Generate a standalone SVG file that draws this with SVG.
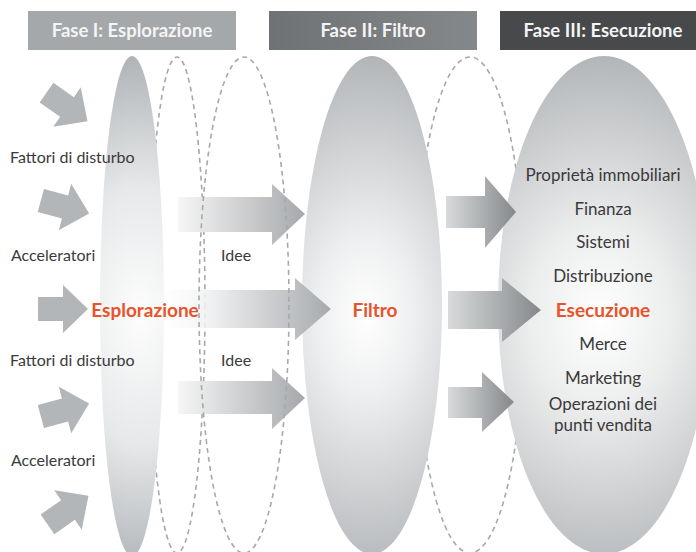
<svg xmlns="http://www.w3.org/2000/svg" width="696" height="552" viewBox="0 0 696 552">
  <defs>
    <style>
      .hdr-text { font-family: Lato, "Liberation Sans", sans-serif; font-weight: bold; font-size: 18.5px; fill: #f4f4f4; text-anchor: middle; }
      .lbl { font-family: Lato, "Liberation Sans", sans-serif; font-size: 16px; fill: #3a3a3a; }
      .item { font-family: Lato, "Liberation Sans", sans-serif; font-size: 17px; fill: #3a3a3a; text-anchor: middle; }
      .key { font-family: Lato, "Liberation Sans", sans-serif; font-weight: bold; font-size: 19px; fill: #e8532c; text-anchor: middle; }
      .dash { fill: none; stroke: #a8a8a8; stroke-width: 1.6; stroke-dasharray: 5 4; }
      .small-arrow { fill: #b3b6b9; }
    </style>
    <radialGradient id="gExp" gradientUnits="userSpaceOnUse" cx="0" cy="0" r="1" gradientTransform="translate(140 315) scale(140 258)">
      <stop offset="0" stop-color="#fdfdfd"/>
      <stop offset="0.5" stop-color="#e6e8e9"/>
      <stop offset="1" stop-color="#b1b4b7"/>
    </radialGradient>
    <radialGradient id="gFil" gradientUnits="userSpaceOnUse" cx="0" cy="0" r="1" gradientTransform="translate(366 316) scale(160 262)">
      <stop offset="0" stop-color="#ffffff"/>
      <stop offset="0.3" stop-color="#eeeff0"/>
      <stop offset="1" stop-color="#b2b5b8"/>
    </radialGradient>
    <radialGradient id="gEse" gradientUnits="userSpaceOnUse" cx="0" cy="0" r="1" gradientTransform="translate(600 318) scale(200 262)">
      <stop offset="0" stop-color="#ffffff"/>
      <stop offset="0.35" stop-color="#eceded"/>
      <stop offset="1" stop-color="#b3b6b9"/>
    </radialGradient>
    <linearGradient id="gIdee" x1="178" y1="0" x2="305" y2="0" gradientUnits="userSpaceOnUse">
      <stop offset="0" stop-color="#f6f6f6"/>
      <stop offset="1" stop-color="#a6a9ac"/>
    </linearGradient>
    <linearGradient id="gMid" x1="150" y1="0" x2="330" y2="0" gradientUnits="userSpaceOnUse">
      <stop offset="0" stop-color="#ffffff" stop-opacity="0"/>
      <stop offset="0.35" stop-color="#eeeff0"/>
      <stop offset="1" stop-color="#a8abae"/>
    </linearGradient>
    <linearGradient id="gOut" x1="0" y1="0" x2="1" y2="0">
      <stop offset="0" stop-color="#d8dadb"/>
      <stop offset="1" stop-color="#85888b"/>
    </linearGradient>
    <linearGradient id="gBar2" x1="0" y1="0" x2="1" y2="0">
      <stop offset="0" stop-color="#6f7275"/>
      <stop offset="1" stop-color="#85888b"/>
    </linearGradient>
  </defs>

  <rect width="696" height="552" fill="#ffffff"/>

  <!-- phase headers -->
  <g id="header-fase1">
    <rect x="28" y="11" width="208" height="39" fill="#a5a8ab"/>
    <text class="hdr-text" x="132" y="37">Fase I: Esplorazione</text>
  </g>
  <g id="header-fase2">
    <rect x="269" y="11" width="208" height="39" fill="url(#gBar2)"/>
    <text class="hdr-text" x="373" y="37">Fase II: Filtro</text>
  </g>
  <g id="header-fase3">
    <rect x="500" y="11" width="196" height="39" fill="#47494b"/>
    <text class="hdr-text" x="603" y="37">Fase III: Esecuzione</text>
  </g>

  <!-- dashed transition loops behind the phases -->
  <g id="loops">
    <ellipse class="dash" cx="177" cy="305" rx="28" ry="248"/>
    <ellipse class="dash" cx="470" cy="305" rx="55" ry="248"/>
  </g>

  <!-- phase bodies -->
  <g id="node-esplorazione">
    <ellipse cx="132" cy="306" rx="32" ry="250" fill="url(#gExp)"/>
  </g>
  <g id="node-filtro">
    <ellipse cx="372" cy="305" rx="70" ry="249" fill="url(#gFil)"/>
  </g>
  <g id="node-esecuzione">
    <ellipse cx="604" cy="305" rx="106" ry="249" fill="url(#gEse)"/>
  </g>

  <!-- connectors -->
  <g id="connectors">
    <!-- incoming influences -->
    <path class="small-arrow" transform="translate(67 107) rotate(35)" d="M-25,-12 H0 V-24 L25,0 L0,24 V12 H-25 Z"/>
    <path class="small-arrow" transform="translate(65 207) rotate(15)" d="M-25,-12 H0 V-24 L25,0 L0,24 V12 H-25 Z"/>
    <path class="small-arrow" transform="translate(63 309)" d="M-25,-12 H0 V-24 L25,0 L0,24 V12 H-25 Z"/>
    <path class="small-arrow" transform="translate(65 410) rotate(-15)" d="M-25,-12 H0 V-24 L25,0 L0,24 V12 H-25 Z"/>
    <path class="small-arrow" transform="translate(68 510) rotate(-35)" d="M-25,-12 H0 V-24 L25,0 L0,24 V12 H-25 Z"/>

    <!-- ideas into the filter -->
    <path fill="url(#gIdee)" d="M178,197 H272 V184 L305,214 L272,245 V232 H178 Z"/>
    <path fill="url(#gMid)" d="M150,290 H295 V278 L331,309 L295,340 V328 H150 Z"/>
    <path fill="url(#gIdee)" d="M178,381 H272 V368 L305,398 L272,429 V414 H178 Z"/>

    <!-- filtered output into execution -->
    <path fill="url(#gOut)" d="M446,196 H485 V176 L516,212 L485,248 V228 H446 Z"/>
    <path fill="url(#gOut)" d="M448,291 H502 V278 L541,310 L502,342 V329 H448 Z"/>
    <path fill="url(#gOut)" d="M448,387 H482 V372 L514,402 L482,432 V418 H448 Z"/>

    <ellipse class="dash" cx="244" cy="305" rx="45" ry="248"/>
  </g>

  <!-- labels -->
  <g id="labels-left">
    <text class="lbl" x="10" y="163">Fattori di disturbo</text>
    <text class="lbl" x="11" y="261">Acceleratori</text>
    <text class="lbl" x="10" y="366">Fattori di disturbo</text>
    <text class="lbl" x="11" y="466">Acceleratori</text>
    <text class="lbl" x="221" y="261">Idee</text>
    <text class="lbl" x="221" y="366">Idee</text>
    <text class="key" x="145" y="317">Esplorazione</text>
    <text class="key" x="375" y="317">Filtro</text>
  </g>
  <g id="labels-execution">
    <text class="item" x="603" y="181">Proprietà immobiliari</text>
    <text class="item" x="603" y="215">Finanza</text>
    <text class="item" x="603" y="248">Sistemi</text>
    <text class="item" x="603" y="282">Distribuzione</text>
    <text class="key" x="603" y="317">Esecuzione</text>
    <text class="item" x="603" y="350">Merce</text>
    <text class="item" x="603" y="384">Marketing</text>
    <text class="item" x="603" y="410">Operazioni dei</text>
    <text class="item" x="603" y="431">punti vendita</text>
  </g>
</svg>
